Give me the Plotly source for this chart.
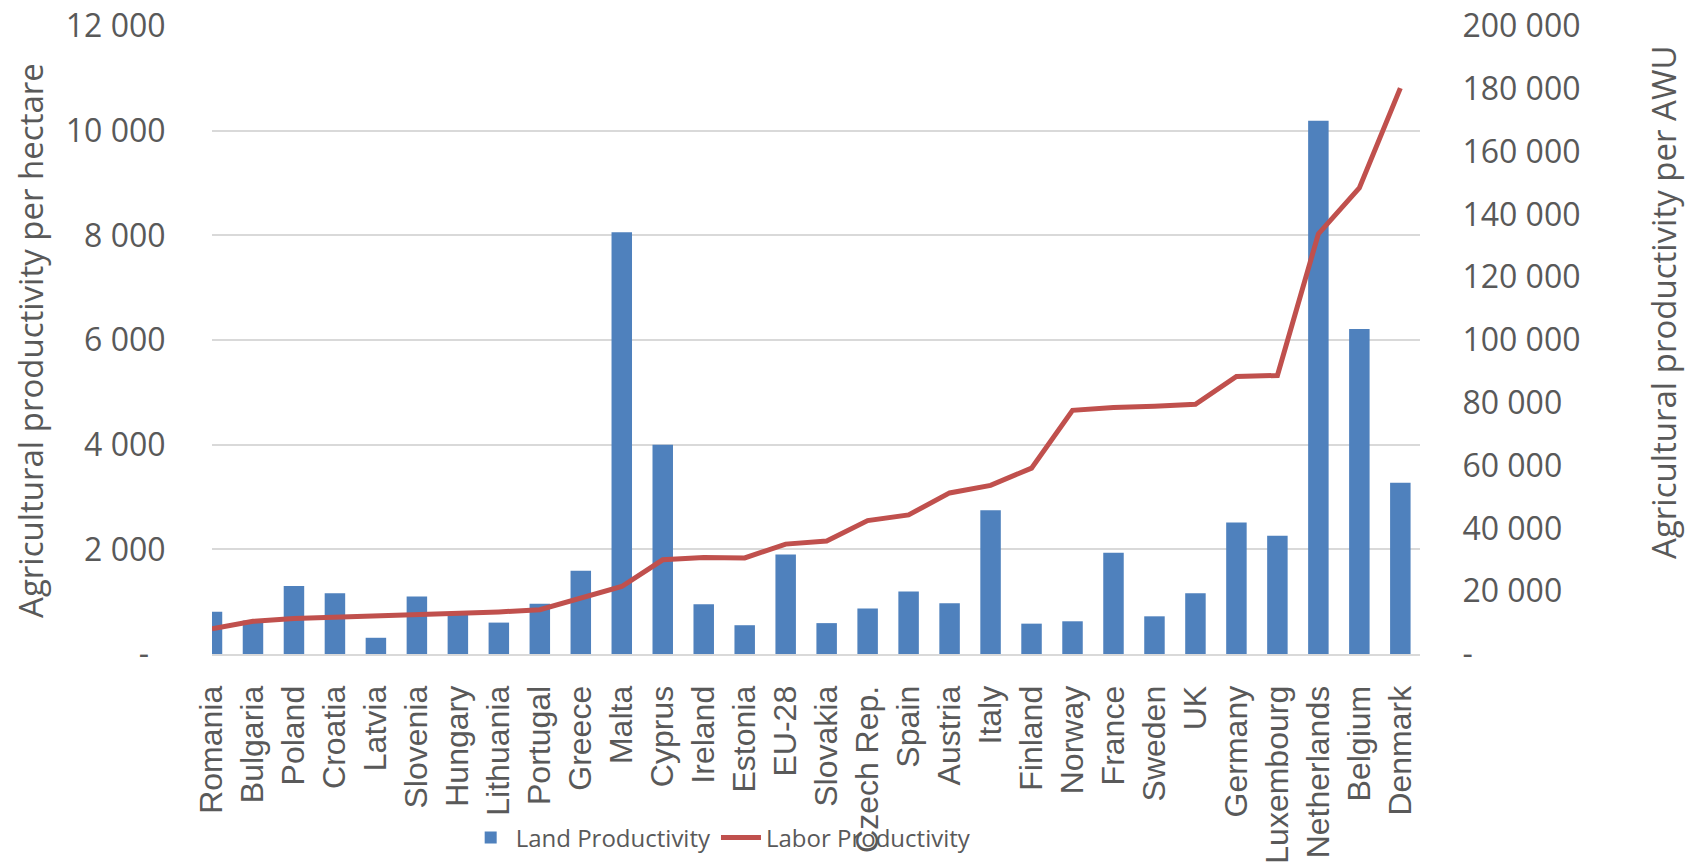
import plotly.graph_objects as go

categories = ["Romania", "Bulgaria", "Poland", "Croatia", "Latvia", "Slovenia", "Hungary",
              "Lithuania", "Portugal", "Greece", "Malta", "Cyprus", "Ireland", "Estonia",
              "EU-28", "Slovakia", "Czech Rep.", "Spain", "Austria", "Italy", "Finland",
              "Norway", "France", "Sweden", "UK", "Germany", "Luxembourg", "Netherlands",
              "Belgium", "Denmark"]

land_productivity = [805, 640, 1300, 1160, 310, 1100, 770, 600, 960, 1590, 8060, 4000, 950,
                     550, 1900, 590, 870, 1195, 970, 2745, 580, 625, 1935, 720, 1160, 2515,
                     2260, 10190, 6210, 3270]

labor_productivity = [8000, 10400, 11300, 11700, 12100, 12400, 13000, 13400, 14100, 17600,
                      21500, 30000, 30700, 30600, 35000, 36000, 42500, 44300, 51300, 53700,
                      59200, 77600, 78500, 78900, 79500, 88400, 88700, 133800, 148400, 180200]

left_tick_vals = [0, 2000, 4000, 6000, 8000, 10000, 12000]
left_tick_text = ["-\u00a0\u00a0", "2 000", "4 000", "6 000", "8 000", "10 000", "12 000"]
right_tick_vals = [0, 20000, 40000, 60000, 80000, 100000, 120000, 140000, 160000, 180000, 200000]
right_tick_text = ["-", "20 000", "40 000", "60 000", "80 000", "100 000", "120 000",
                   "140 000", "160 000", "180 000", "200 000"]

left_title = "Agricultural productivity per hectare"
right_title = "Agricultural productivity per AWU"

TXT = "#595959"
FONT = "Open Sans, Liberation Sans, sans-serif"
XFONT = "Liberation Sans, Arial, sans-serif"

fig = go.Figure()
fig.add_trace(go.Bar(x=categories, y=land_productivity, name="Land Productivity",
                     marker=dict(color="#4F81BD", line=dict(width=0)), yaxis="y"))
fig.add_trace(go.Scatter(x=categories, y=labor_productivity, name="Labor Productivity",
                         mode="lines", line=dict(color="#C0504D", width=5), yaxis="y2"))

fig.update_layout(
    width=1687, height=866,
    margin=dict(l=212, r=267, t=26, b=212, autoexpand=False),
    plot_bgcolor="white", paper_bgcolor="white",
    bargap=0.5,
    font=dict(family=FONT, color=TXT, size=32),
    xaxis=dict(type="category", range=[0, 29.48], tickangle=-90, automargin=False,
               showgrid=False, showline=True, linecolor="#D9D9D9", linewidth=2,
               ticks="", ticklabelstandoff=17, ticklabeloverflow="allow",
               tickfont=dict(family=XFONT, size=32, color=TXT)),
    yaxis=dict(range=[0, 12000], tickvals=left_tick_vals, ticktext=left_tick_text,
               automargin=False, ticklabeloverflow="allow",
               showgrid=True, gridcolor="#D9D9D9", gridwidth=2, zeroline=False,
               ticks="outside", ticklen=39, tickcolor="rgba(0,0,0,0)",
               tickfont=dict(family=FONT, size=32, color=TXT)),
    yaxis2=dict(range=[0, 200000], tickvals=right_tick_vals, ticktext=right_tick_text,
                automargin=False, ticklabeloverflow="allow",
                overlaying="y", side="right", showgrid=False, zeroline=False,
                ticks="outside", ticklen=35, tickcolor="rgba(0,0,0,0)",
                tickfont=dict(family=FONT, size=32, color=TXT)),
    showlegend=True,
    legend=dict(orientation="h", x=0.21, xanchor="left", y=-0.293, yanchor="middle",
                font=dict(family=FONT, size=24, color=TXT), itemwidth=40,
                bgcolor="rgba(0,0,0,0)", traceorder="normal"),
    annotations=[
        dict(text=left_title, xref="paper", yref="paper", x=-0.1507, y=0.5,
             xanchor="center", yanchor="middle", textangle=-90, showarrow=False,
             font=dict(family=FONT, size=33, color=TXT)),
        dict(text=right_title, xref="paper", yref="paper", x=1.2020, y=0.559,
             xanchor="center", yanchor="middle", textangle=-90, showarrow=False,
             font=dict(family=FONT, size=33, color=TXT)),
    ],
)

fig.write_html(
    "out.html",
    config={"displayModeBar": False},
    post_script="document.body.style.margin='0';"
                "document.body.style.overflow='hidden';"
                "document.documentElement.style.overflow='hidden';",
)
